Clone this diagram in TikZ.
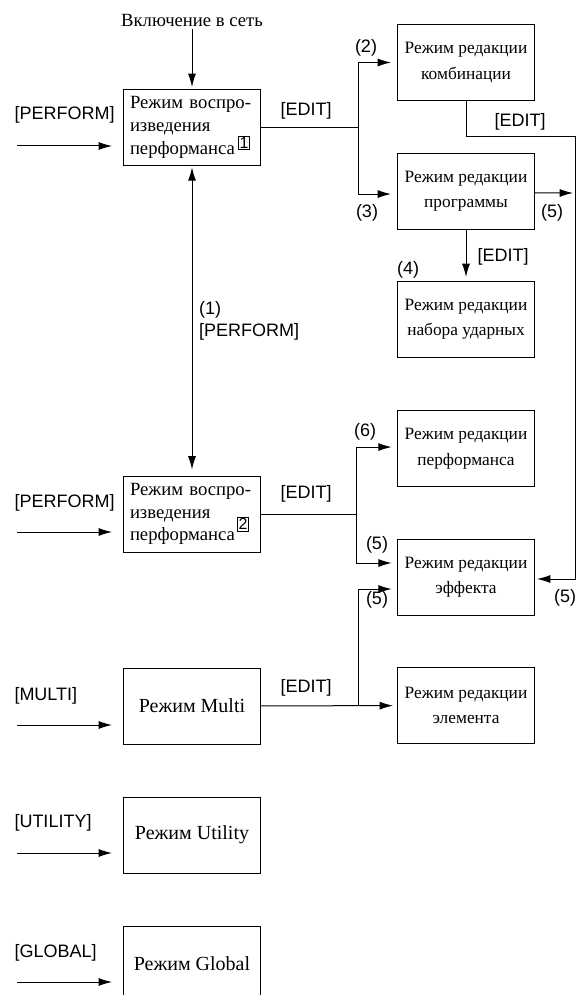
\documentclass[tikz,border=0pt]{standalone}
\usepackage{fontspec}
\setmainfont{Liberation Serif}
\setsansfont{Liberation Sans}
\usetikzlibrary{arrows.meta, positioning}

\begin{document}
\begin{tikzpicture}[x=0.75pt, y=-0.75pt, line width=0.75pt,
        arr/.style={-{Latex[length=10pt,width=6pt]}},
        biarr/.style={{Latex[length=10pt,width=6pt]}-{Latex[length=10pt,width=6pt]}},
        mode/.style={rectangle, draw, minimum width=102.75pt, minimum height=57pt, inner sep=0pt, align=center, font=\fontsize{13}{19}\selectfont},
        play/.style={mode, text width=93pt, align=left, font=\fontsize{14}{17}\selectfont},
        single/.style={mode, font=\fontsize{15}{18}\selectfont},
        key/.style={inner sep=0pt, font=\sffamily\fontsize{13.5}{16.5}\selectfont},
        numbox/.style={draw, line width=0.6pt, inner sep=1pt, font=\sffamily\fontsize{12}{12}\selectfont}]
        \useasboundingbox (0,0) rectangle (576,995);

        % left column
        \node[inner sep=2pt, font=\fontsize{14}{17}\selectfont] (power) at (192,20) {Включение в сеть};
        \node[play] (play1) at (192,127.5) {Режим воспро-\\изведения\\перформанса};
        \node[numbox] (n1) at (244,143) {1};
        \node[play] (play2) at (192,514) {Режим воспро-\\изведения\\перформанса};
        \node[numbox] (n2) at (243,524) {2};
        \node[single] (multi) at (192,706) {Режим Multi};
        \node[single] (utility) at (192,835) {Режим Utility};
        \node[single] (global) at (192,964) {Режим Global};

        % right column
        \node[mode] (combi) at (466,62.5) {Режим редакции\\комбинации};
        \node[mode] (prog) at (466,191.5) {Режим редакции\\программы};
        \node[mode] (drums) at (466,319.5) {Режим редакции\\набора ударных};
        \node[mode] (perfed) at (466,448.5) {Режим редакции\\перформанса};
        \node[mode] (fxed) at (466,577) {Режим редакции\\эффекта};
        \node[mode] (elemed) at (466,705.5) {Режим редакции\\элемента};

        % keys
        \node[key, anchor=west] (k_perf1) at (14,115) {[PERFORM]};
        \node[key, anchor=west] (k_perf2) at (14,503) {[PERFORM]};
        \node[key, anchor=west] (k_multi) at (14,696) {[MULTI]};
        \node[key, anchor=west] (k_util) at (14,823) {[UTILITY]};
        \node[key, anchor=west] (k_glob) at (14,953) {[GLOBAL]};
        \coordinate (in1) at (17,146);
        \coordinate (in2) at (17,532);
        \coordinate (in3) at (17,725);
        \coordinate (in4) at (17,853);
        \coordinate (in5) at (17,982);
        \foreach \i/\m in {in1/play1, in2/play2, in3/multi, in4/utility, in5/global}
            \draw[arr, shorten >=8.25pt] (\i) -- (\i -| \m.west);

        % joints
        \coordinate (s1) at (358,127.5);
        \coordinate (s2) at (356,514);
        \coordinate (s3) at (358,706);
        \coordinate (c1) at (575,137);
        \coordinate (p5) at (573,193);

        \draw[arr, shorten >=1.5pt] (power) -- (play1);
        \draw[biarr, shorten <=1pt, shorten >=4.5pt] (play1) -- (play2)
            node[key, midway, right=5pt, align=left] {(1)\\{[PERFORM]}};

        \draw (play1) -- (s1);
        \draw[arr, shorten >=4.5pt] (s1) |- (combi);
        \draw[arr, shorten >=4.5pt] (s1) |- ([yshift=-1.9pt]prog.west);
        \node[key] (e1) at (306,111) {[EDIT]};
        \node[key] (l2) at (366,48) {(2)};
        \node[key] (l3) at (367,213) {(3)};

        \draw[arr, shorten >=1.5pt] (combi.south) |- (c1) |- ([yshift=-1.5pt]fxed.east);
        \node[key] (e2) at (520,122) {[EDIT]};
        \node[key] (l5c) at (565,598) {(5)};

        \draw[arr] ([yshift=-1.1pt]prog.east) -- (p5);
        \node[key] (l5p) at (552,213) {(5)};
        \draw[arr, shorten >=3pt] (prog) -- (drums);
        \node[key] (e3) at (503,257) {[EDIT]};
        \node[key] (l4) at (408,270) {(4)};

        \draw (play2) -- (s2);
        \draw[arr, shorten >=4pt] (s2) |- ([yshift=1.1pt]perfed.west);
        \draw[arr, shorten >=4pt] (s2) |- ([yshift=10.5pt]fxed.west);
        \node[key] (e4) at (306,494) {[EDIT]};
        \node[key] (l6) at (365,432) {(6)};
        \node[key] (l5a) at (377,545) {(5)};

        \draw[arr, shorten >=3pt] (multi) -- (elemed);
        \draw[arr, shorten >=4pt] (s3) |- ([yshift=-9pt]fxed.west);
        \node[key] (e5) at (306,688) {[EDIT]};
        \node[key] (l5b) at (377,600) {(5)};
\end{tikzpicture}
\end{document}
